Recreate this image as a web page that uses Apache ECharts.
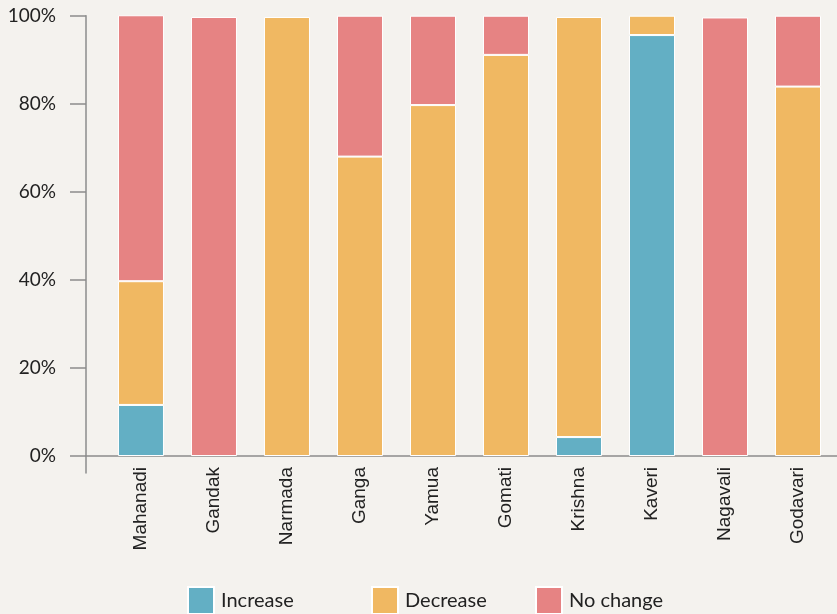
<!DOCTYPE html>
<html>
<head>
<meta charset="utf-8">
<script src="https://cdn.jsdelivr.net/npm/echarts@6/dist/echarts.min.js"></script>
<style>
  html, body { margin: 0; padding: 0; background: #f4f2ee; }
  #chart { width: 837px; height: 614px; }
</style>
</head>
<body>
<div id="chart"></div>
<script>
// share of stations per river basin (%)
var rivers = ['Mahanadi', 'Gandak', 'Narmada', 'Ganga', 'Yamua', 'Gomati', 'Krishna', 'Kaveri', 'Nagavali', 'Godavari'];
var increase = [11.6, 0, 0, 0, 0, 0, 4.3, 95.6, 0, 0];
var decrease = [28.1, 0, 99.7, 68.0, 79.7, 91.1, 95.4, 4.4, 0, 83.9];
var noChange = [60.4, 99.7, 0, 32.0, 20.3, 8.9, 0, 0, 99.6, 16.1];
var yTicks = [0, 20, 40, 60, 80, 100];

var colors = { inc: '#63afc4', dec: '#f0b862', nc: '#e68383' };

// value first, index second -> stack runs on the y value
function toData(arr) {
  return arr.map(function (v, i) { return [v ? v : '-', i]; });
}

function mkSeries(name, arr, color) {
  return {
    name: name,
    type: 'bar',
    stack: 'all',
    barWidth: 46,
    encode: { x: 1, y: 0 },
    itemStyle: { color: color, borderColor: '#ffffff', borderWidth: 1 },
    data: toData(arr)
  };
}

function mkLegend(name, left) {
  return {
    data: [name],
    left: left,
    top: 586,
    padding: 0,
    itemWidth: 26,
    itemHeight: 27,
    itemGap: 0,
    icon: 'rect',
    textStyle: { fontFamily: 'Lato', fontSize: 20, color: '#222', padding: [4, 0, 0, 2] }
  };
}

var myChart = echarts.init(document.getElementById('chart'));
var xIdx = rivers.map(function (r, i) { return i; });

var option = {
  backgroundColor: '#f4f2ee',
  animation: false,
  grid: { left: 86, right: 0, top: 15.7, bottom: 141, containLabel: false },
  legend: [
    mkLegend('Increase', 187),
    mkLegend('Decrease', 371),
    mkLegend('No change', 535)
  ],
  xAxis: {
    type: 'value',
    min: -0.753,
    max: 9.534,
    splitLine: { show: false },
    axisLine: { onZero: true, lineStyle: { color: '#8c8c8c', width: 1.5 } },
    axisTick: { show: false },
    axisLabel: {
      customValues: xIdx,
      rotate: 90,
      margin: -6,
      fontFamily: 'Liberation Sans',
      fontSize: 19,
      color: '#222',
      formatter: function (v) { return rivers[Math.round(v)] || ''; }
    }
  },
  yAxis: {
    type: 'value',
    min: -3.86,
    max: 100,
    splitLine: { show: false },
    axisLine: { show: true, onZero: false, lineStyle: { color: '#8c8c8c', width: 1.5 } },
    axisTick: { show: true, customValues: yTicks, length: 16, lineStyle: { color: '#8c8c8c', width: 1.5 } },
    axisLabel: {
      customValues: yTicks,
      margin: 30,
      fontFamily: 'Lato',
      fontSize: 19,
      color: '#222',
      formatter: function (v) { return Math.round(v) + '%'; }
    }
  },
  series: [
    mkSeries('Increase', increase, colors.inc),
    mkSeries('Decrease', decrease, colors.dec),
    mkSeries('No change', noChange, colors.nc)
  ]
};

myChart.setOption(option);
</script>
</body>
</html>
